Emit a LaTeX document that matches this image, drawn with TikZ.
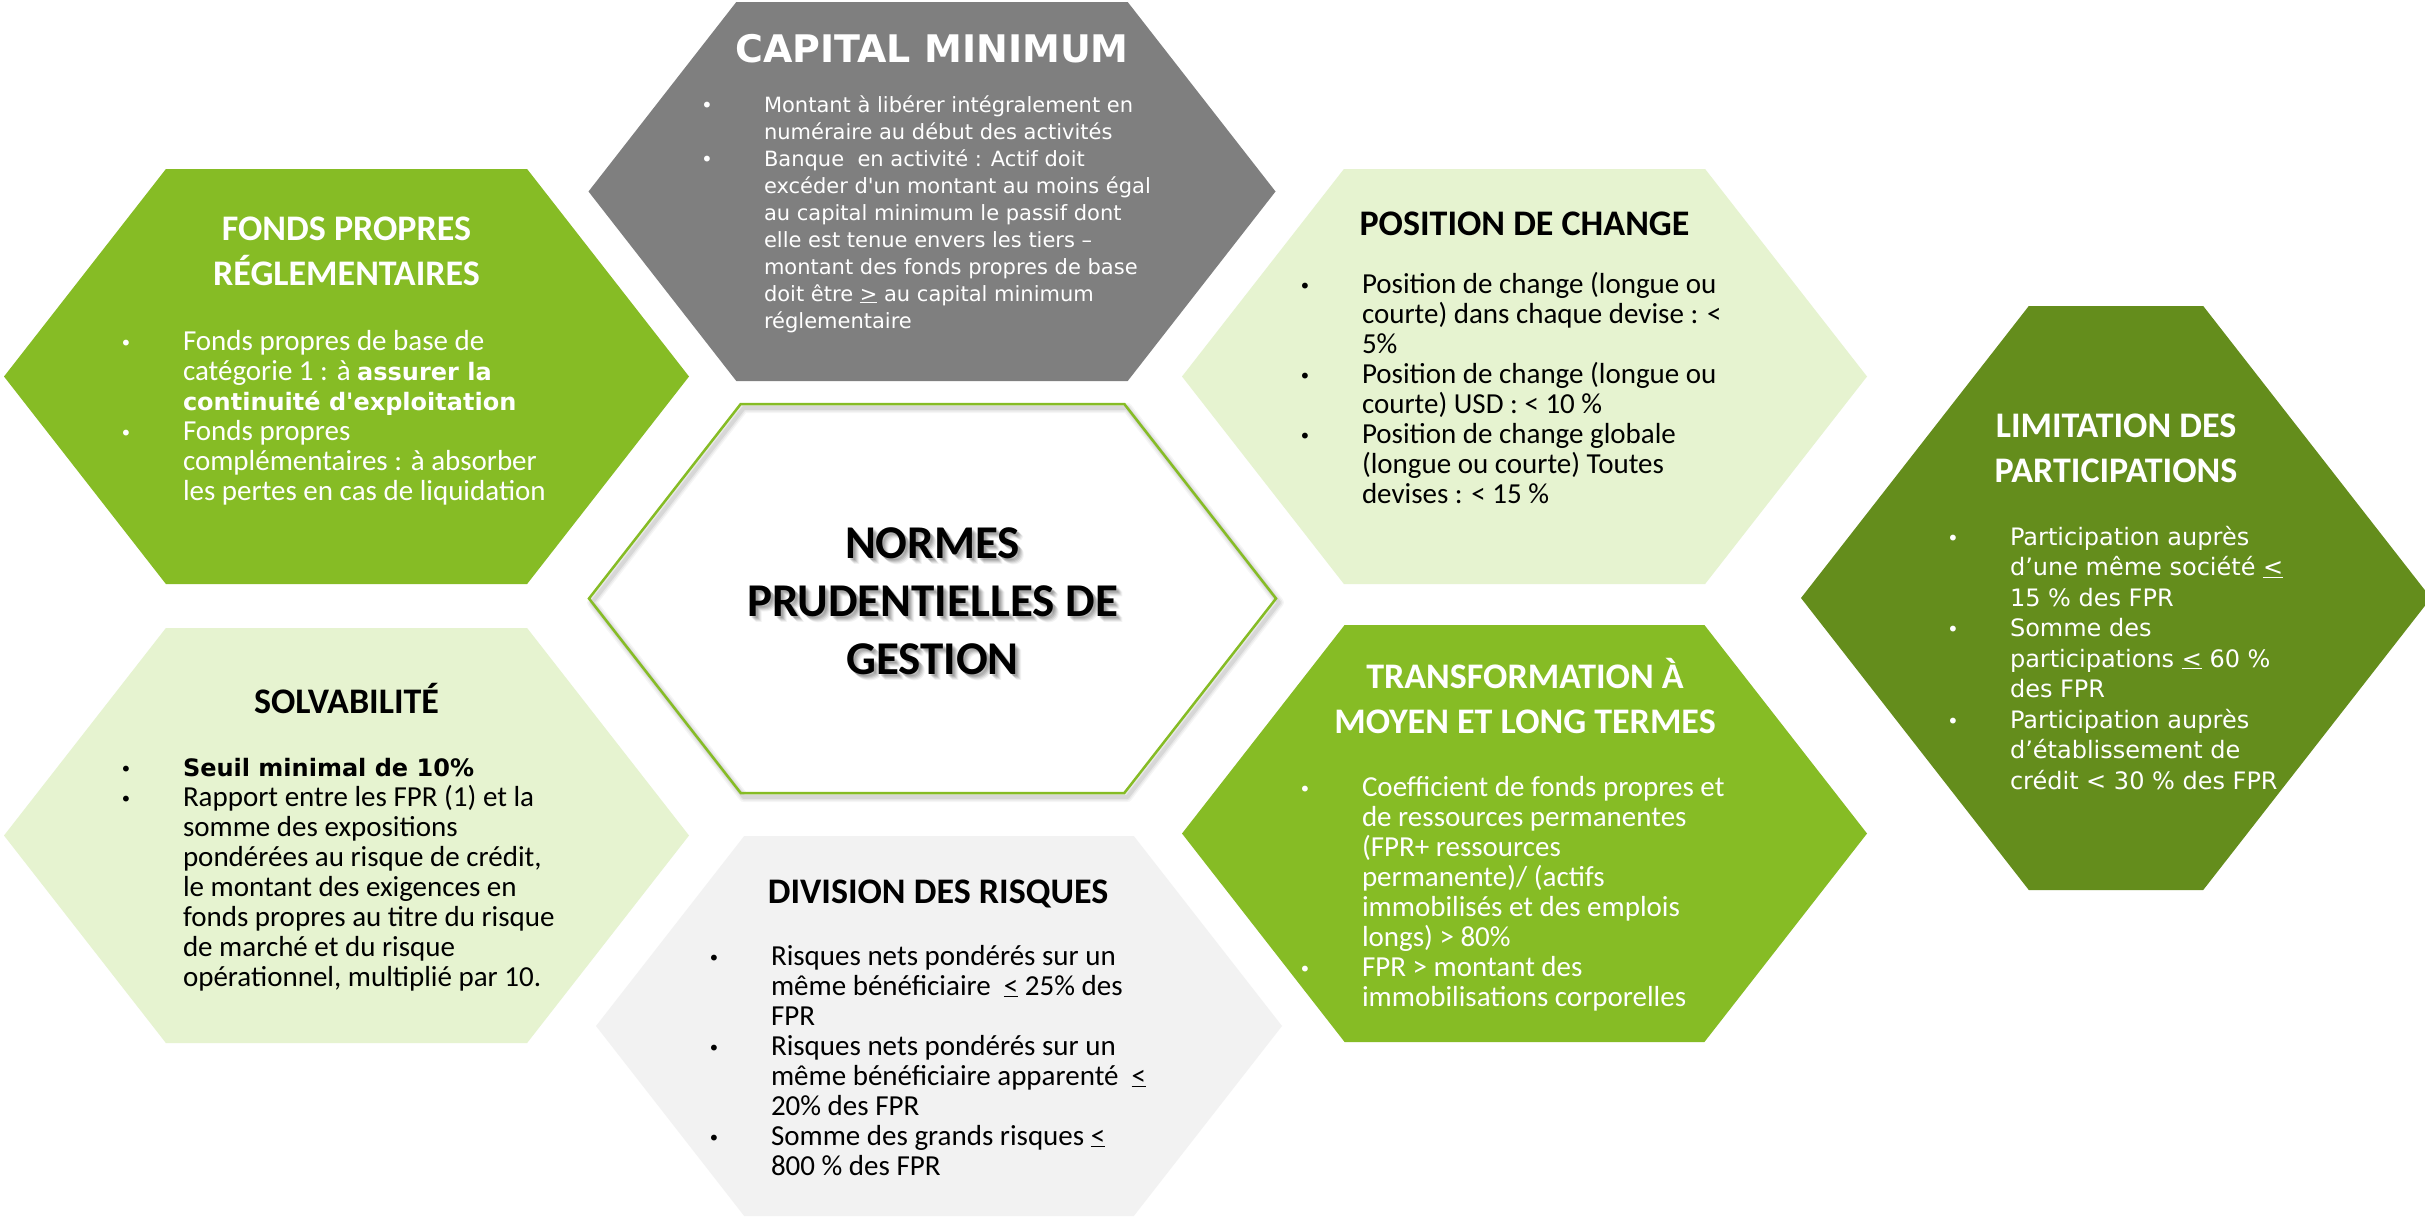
\documentclass[tikz,border=0pt]{standalone}
\usepackage{fontspec}
\setmainfont{Carlito}
\newfontfamily\calfont{Carlito}
\newfontfamily\verfont[Ligatures=TeXOff]{DejaVu Sans}
\definecolor{gA}{RGB}{134,188,37}
\definecolor{gD}{RGB}{100,141,28}
\definecolor{gL}{RGB}{230,243,208}
\definecolor{grM}{RGB}{127,127,127}
\definecolor{grL}{RGB}{242,242,242}
\newcommand\fBody{\calfont\fontsize{29}{30}\selectfont}
\newcommand\fVer{\verfont\fontsize{21}{27}\selectfont}
\newcommand\fVerL{\verfont\fontsize{24}{30.5}\selectfont}
\newcommand\fTtl{\calfont\bfseries\fontsize{36}{45}\selectfont}
\newcommand\fCen{\calfont\bfseries\fontsize{47}{58}\selectfont}
\newcommand\vb[1]{{\verfont\bfseries\fontsize{24}{30}\selectfont #1}}
\newcommand\bul{\leavevmode\llap{\hbox to 114pt{\hss{\verfont\fontsize{20}{20}\selectfont\textbullet}\hss}}}
\newcommand\bbox[1]{\vtop{\hsize=700pt\parindent=0pt\raggedright #1\par}}
\newcommand\tbox[1]{\vtop{\hsize=700pt\parindent=0pt\centering #1\par}}
\tikzset{
  body/.style={anchor=base west, inner sep=0pt, outer sep=0pt},
  ttl/.style={anchor=base, inner sep=0pt, outer sep=0pt},
}
\begin{document}
\begin{tikzpicture}[x=1pt,y=-1pt]
\useasboundingbox (0,0) rectangle (2425,1216);
\fill[white] (0,0) rectangle (2425,1216);

% ---------- hexagons ----------
% capital minimum
\fill[grM] (588.5,191.5) -- (736.3,2) -- (1127.7,2) -- (1275.5,191.5) -- (1127.7,381) -- (736.3,381) -- cycle;
% fonds propres
\fill[gA] (4,376.5) -- (165.9,169) -- (527.1,169) -- (689,376.5) -- (527.1,584) -- (165.9,584) -- cycle;
% position de change
\fill[gL] (1182,376.5) -- (1343.9,169) -- (1705.1,169) -- (1867,376.5) -- (1705.1,584) -- (1343.9,584) -- cycle;
% solvabilite
\fill[gL] (4,835.5) -- (165.9,628) -- (527.1,628) -- (689,835.5) -- (527.1,1043) -- (165.9,1043) -- cycle;
% division des risques
\fill[grL] (596,1026) -- (744.2,836) -- (1133.8,836) -- (1282,1026) -- (1133.8,1216) -- (744.2,1216) -- cycle;
% transformation
\fill[gA] (1182,833.5) -- (1344.6,625) -- (1704.4,625) -- (1867,833.5) -- (1704.4,1042) -- (1344.6,1042) -- cycle;
% limitation
\fill[gD] (1801,598) -- (2028.8,306) -- (2203.2,306) -- (2431,598) -- (2203.2,890) -- (2028.8,890) -- cycle;
% centre
\fill[white] (589,598.5) -- (740.7,404) -- (1124.3,404) -- (1276,598.5) -- (1124.3,793) -- (740.7,793) -- cycle;
\foreach \w/\op in {10/0.04,7/0.05,4/0.07} {
  \draw[line width=\w pt, black, opacity=\op, line join=round, shift={(3,4)}]
    (589,598.5) -- (740.7,404) -- (1124.3,404) -- (1276,598.5) -- (1124.3,793) -- (740.7,793) -- cycle;
}
\draw[gA, line width=2.5pt, line join=miter] (589,598.5) -- (740.7,404) -- (1124.3,404) -- (1276,598.5) -- (1124.3,793) -- (740.7,793) -- cycle;

% ---------- centre title ----------
\foreach \d/\op in {2/0.10,3/0.10,4/0.09,5/0.07,6/0.05} {
  \node[ttl, font=\fCen, text=black, text opacity=\op] (censh\d) at (932.5+\d,558+\d) {\tbox{NORMES\\PRUDENTIELLES DE\\GESTION}};
}
\node[ttl, font=\fCen, text=black] (cen) at (932.5,558) {\tbox{NORMES\\PRUDENTIELLES DE\\GESTION}};

% ---------- capital minimum ----------
\node[ttl, font=\verfont\bfseries\fontsize{38}{45}\selectfont, text=white] (capt) at (932,62) {CAPITAL MINIMUM};
\node[body, font=\fVer, text=white] (capb) at (764,112) {\bbox{\bul Montant à libérer intégralement en\\numéraire au début des activités\\\bul Banque\ \ en activité : Actif doit\\excéder d'un montant au moins égal\\au capital minimum le passif dont\\elle est tenue envers les tiers –\\montant des fonds propres de base\\doit être \underline{>} au capital minimum\\réglementaire}};

% ---------- fonds propres ----------
\node[ttl, font=\fTtl, text=white] (fpt) at (346.5,240) {\tbox{FONDS PROPRES\\RÉGLEMENTAIRES}};
\node[body, font=\fBody, text=white] (fpb) at (183,350) {\bbox{\bul Fonds propres de base de\\catégorie 1 : à \vb{assurer la}\\\vb{continuité d'exploitation}\\\bul Fonds propres\\complémentaires : à absorber\\les pertes en cas de liquidation}};

% ---------- position de change ----------
\node[ttl, font=\fTtl, text=black] (pct) at (1524.5,235) {POSITION DE CHANGE};
\node[body, font=\fBody, text=black] (pcb) at (1362,293) {\bbox{\bul Position de change (longue ou\\courte) dans chaque devise : <\\5\%\\\bul Position de change (longue ou\\courte) USD : < 10 \%\\\bul Position de change globale\\(longue ou courte) Toutes\\devises : < 15 \%}};

% ---------- limitation des participations ----------
\node[ttl, font=\fTtl, text=white] (lpt) at (2116,437) {\tbox{LIMITATION DES\\PARTICIPATIONS}};
\node[body, font=\fVerL, text=white] (lpb) at (2010,545) {\bbox{\bul Participation auprès\\d’une même société \underline{<}\\15 \% des FPR\\\bul Somme des\\participations \underline{<} 60 \%\\des FPR\\\bul Participation auprès\\d’établissement de\\crédit < 30 \% des FPR}};

% ---------- solvabilite ----------
\node[ttl, font=\fTtl, text=black] (svt) at (346.5,713) {SOLVABILITÉ};
\node[body, font=\fBody, text=black] (svb) at (183,776) {\bbox{\bul \vb{Seuil minimal de 10\%}\\\bul Rapport entre les FPR (1) et la\\somme des expositions\\pondérées au risque de crédit,\\le montant des exigences en\\fonds propres au titre du risque\\de marché et du risque\\opérationnel, multiplié par 10.}};

% ---------- division des risques ----------
\node[ttl, font=\fTtl, text=black] (drt) at (938,903) {DIVISION DES RISQUES};
\node[body, font=\fBody, text=black] (drb) at (771,965) {\bbox{\bul Risques nets pondérés sur un\\même bénéficiaire\ \ \underline{<} 25\% des\\FPR\\\bul Risques nets pondérés sur un\\même bénéficiaire apparenté\ \ \underline{<}\\20\% des FPR\\\bul Somme des grands risques \underline{<}\\800 \% des FPR}};

% ---------- transformation ----------
\node[ttl, font=\fTtl, text=white] (tmt) at (1525,688) {\tbox{TRANSFORMATION À\\MOYEN ET LONG TERMES}};
\node[body, font=\fBody, text=white] (tmb) at (1362,796) {\bbox{\bul Coefficient de fonds propres et\\de ressources permanentes\\(FPR+ ressources\\permanente)/ (actifs\\immobilisés et des emplois\\longs) > 80\%\\\bul FPR > montant des\\immobilisations corporelles}};
\end{tikzpicture}
\end{document}
